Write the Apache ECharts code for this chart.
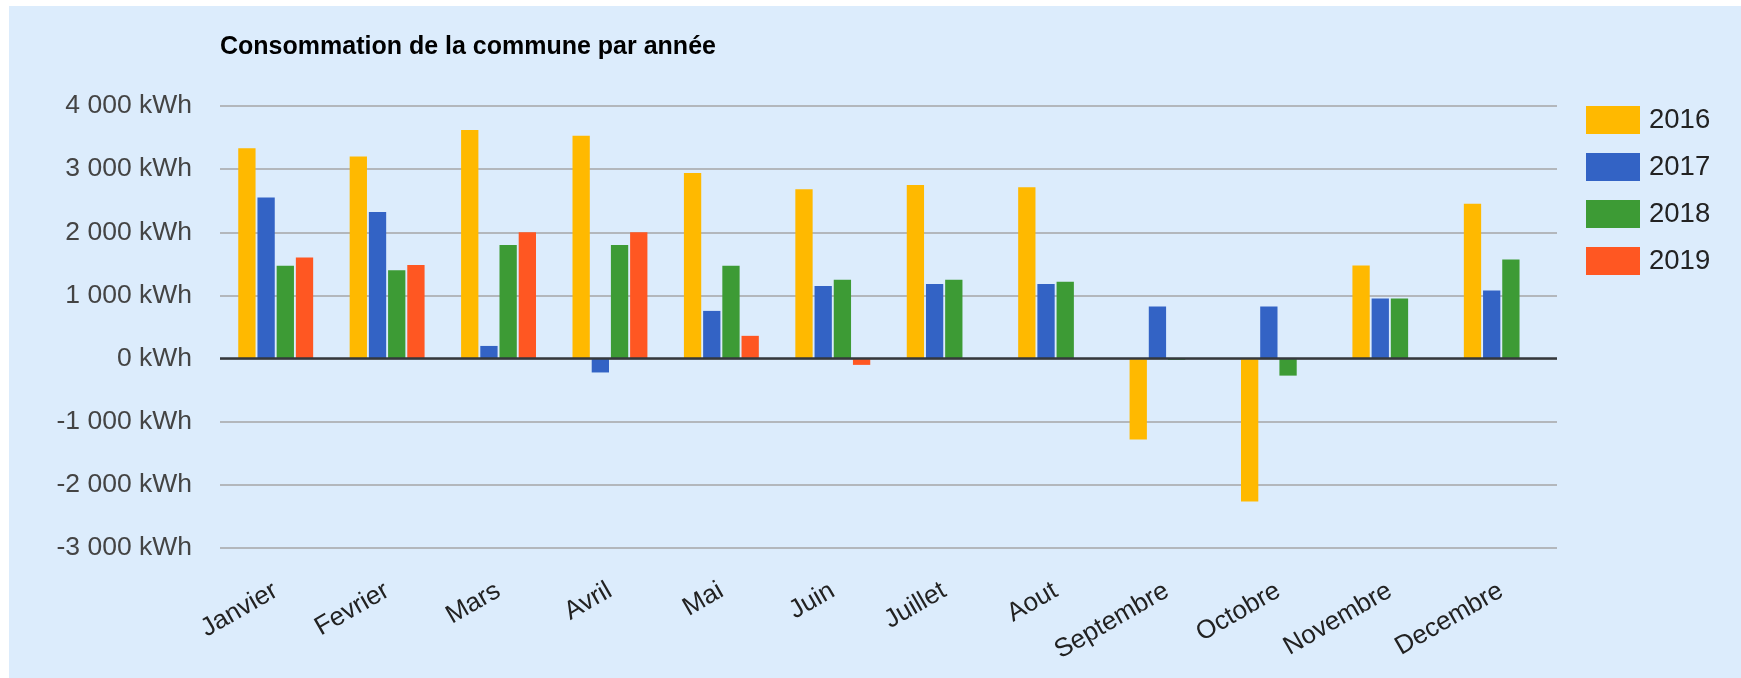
<!DOCTYPE html>
<html>
<head>
	<meta charset="utf-8">
	<title>Consommation</title>
	<script src="https://cdn.jsdelivr.net/npm/echarts@6/dist/echarts.min.js"></script>
	<style>
		body { margin: 0; background: #fff; }
		#main { position: absolute; left: 9px; top: 6px; width: 1732px; height: 672px; }
	</style>
</head>
<body>
	<div id="main"></div>
	<script type="text/javascript">
var categories = ['Janvier', 'Fevrier', 'Mars', 'Avril', 'Mai', 'Juin', 'Juillet', 'Aout', 'Septembre', 'Octobre', 'Novembre', 'Decembre'];
var years = ['2016', '2017', '2018', '2019'];
var conso2016 = [3330, 3200, 3620, 3530, 2940, 2680, 2750, 2715, -1280, -2265, 1475, 2450];
var conso2017 = [2550, 2320, 200, -220, 755, 1150, 1180, 1180, 825, 825, 950, 1080];
var conso2018 = [1470, 1400, 1800, 1800, 1470, 1250, 1250, 1215, -20, -270, 950, 1570];
var conso2019 = [1600, 1480, 2000, 2000, 360, -100, null, null, null, null, null, null];
var colors = ['#ffb900', '#3363c5', '#3d9b35', '#ff5722'];

var myChart = echarts.init(document.getElementById('main'));
var font = "'Liberation Sans', Arial, sans-serif";

// format "4 000 kWh"
function kwh(v) {
    var s = String(Math.abs(v)).replace(/\B(?=(\d{3})+(?!\d))/g, ' ');
    return (v < 0 ? '-' : '') + s + ' kWh';
}

function bar(name, data, i) {
    var s = {
        name: name,
        type: 'bar',
        data: data,
        barWidth: 17.3,
        barGap: '11%',
        itemStyle: { color: colors[i] }
    };
    if (i === 0) {
        // ligne du zéro
        s.markLine = {
            silent: true,
            symbol: 'none',
            label: { show: false },
            lineStyle: { color: '#35383c', width: 2.5, type: 'solid' },
            data: [{ yAxis: 0 }]
        };
    }
    return s;
}

var option = {
    animation: false,
    backgroundColor: '#dcecfc',
    title: {
        text: 'Consommation de la commune par année',
        left: 206,
        top: 24,
        textStyle: { fontFamily: font, fontSize: 25, fontWeight: 'bold', color: '#000' }
    },
    legend: {
        orient: 'vertical',
        left: 1572,
        top: 95,
        icon: 'rect',
        itemWidth: 54,
        itemHeight: 28,
        itemGap: 19,
        data: years,
        textStyle: { fontFamily: font, fontSize: 27.5, color: '#222', padding: [0, 0, 0, 4] }
    },
    grid: { left: 211, top: 100, width: 1337, height: 442 },
    xAxis: {
        type: 'category',
        data: categories,
        axisLine: { show: false, onZero: false },
        axisTick: { show: false },
        axisLabel: {
            interval: 0,
            rotate: 30,
            margin: 41,
            fontFamily: font,
            fontSize: 26,
            color: '#222'
        }
    },
    yAxis: {
        type: 'value',
        min: -3000,
        max: 4000,
        interval: 1000,
        axisLine: { show: false },
        axisTick: { show: false },
        axisLabel: {
            margin: 28,
            fontFamily: font,
            fontSize: 26.5,
            color: '#444',
            formatter: kwh
        },
        splitLine: { lineStyle: { color: '#b3b7bc', width: 2 } }
    },
    series: [
        bar(years[0], conso2016, 0),
        bar(years[1], conso2017, 1),
        bar(years[2], conso2018, 2),
        bar(years[3], conso2019, 3)
    ]
};

myChart.setOption(option);
	</script>
</body>
</html>
